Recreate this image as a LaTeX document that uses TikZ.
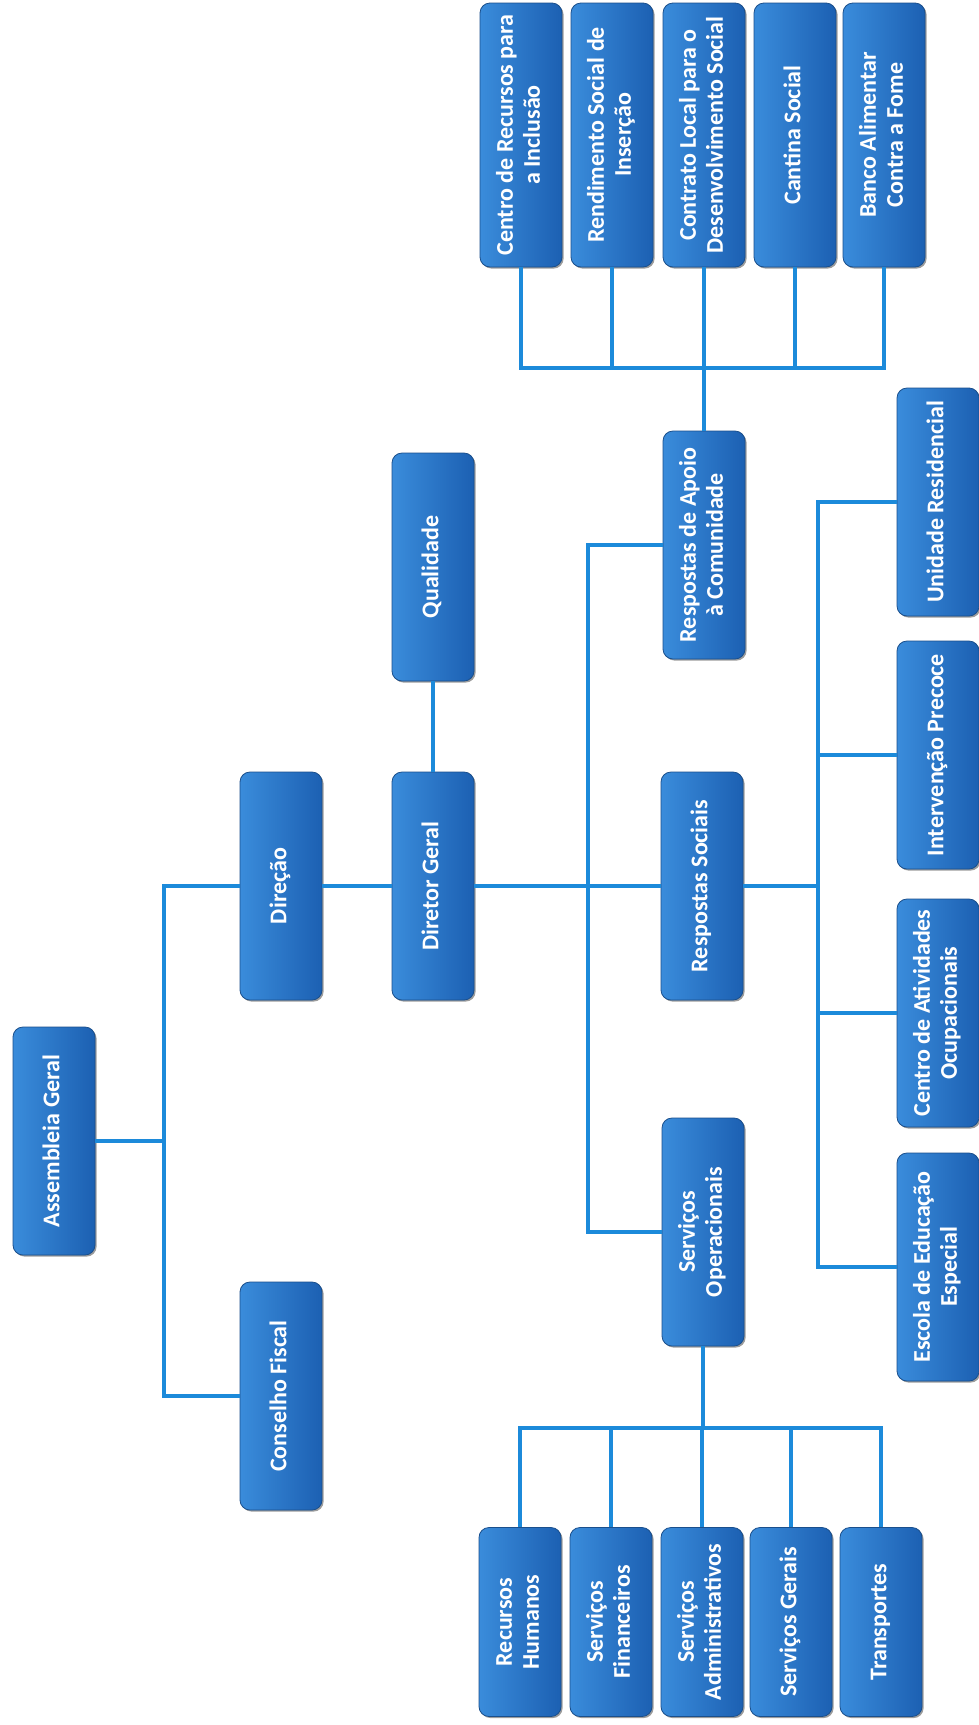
\documentclass[tikz,border=0pt]{standalone}
\usepackage{fontspec}
\setmainfont{Carlito}
\usepackage{graphicx}
\usetikzlibrary{shadows}
\definecolor{boxleft}{HTML}{3A8CDB}
\definecolor{boxmid}{HTML}{2370C7}
\definecolor{boxright}{HTML}{1C60B2}
\definecolor{boxedge}{HTML}{1A4F8C}
\definecolor{linkblue}{HTML}{1C8ADA}
\newcommand{\vlabel}[1]{\rotatebox{90}{\begin{tabular}{@{}c@{}}#1\end{tabular}}}
\tikzset{
  orgbox/.style={rectangle, rounded corners=5pt, minimum width=41pt, inner sep=0pt,
    left color=boxleft, middle color=boxmid, right color=boxright, draw=boxedge, line width=0.4pt,
    text=white, font=\bfseries\fontsize{12}{13.5}\selectfont,
    drop shadow={shadow xshift=0.8pt, shadow yshift=-0.8pt, fill=black!70, opacity=0.55}},
  mainbox/.style={orgbox, minimum height=114pt},
  topbox/.style={orgbox, minimum height=132pt},
  botbox/.style={orgbox, minimum height=94.5pt},
  link/.style={draw=linkblue, line width=2pt}
}
\begin{document}
\begin{tikzpicture}[x=0.5pt,y=-0.5pt]
\useasboundingbox[fill=white] (0,0) rectangle (979,1725);
% trunk and bus coordinates
\coordinate (tA) at (164,886);
\coordinate (tB) at (164,1396);
\coordinate (t2) at (588,0);
\coordinate (t3) at (818,0);
\coordinate (bus) at (0,368);
\coordinate (bbus) at (0,1428);
% boxes
\node[mainbox] (asm) at (54,1141) {\vlabel{Assembleia Geral}};
\node[mainbox] (con) at (281,1396) {\vlabel{Conselho Fiscal}};
\node[mainbox] (dir) at (281,886) {\vlabel{Direção}};
\node[mainbox] (dg) at (433,886) {\vlabel{Diretor Geral}};
\node[mainbox] (qual) at (433,567) {\vlabel{Qualidade}};
\node[mainbox] (rac) at (704,545) {\vlabel{Respostas de Apoio\\à Comunidade}};
\node[mainbox] (rs) at (702,886) {\vlabel{Respostas Sociais}};
\node[mainbox] (so) at (703,1232) {\vlabel{Serviços\\Operacionais}};
\node[mainbox] (ur) at (938,502) {\vlabel{Unidade Residencial}};
\node[mainbox] (ip) at (938,755) {\vlabel{Intervenção Precoce}};
\node[mainbox] (cao) at (938,1013) {\vlabel{Centro de Atividades\\Ocupacionais}};
\node[mainbox] (eee) at (938,1267) {\vlabel{Escola de Educação\\Especial}};
\node[topbox] (cri) at (521,135) {\vlabel{Centro de Recursos para\\a Inclusão}};
\node[topbox] (rsi) at (612,135) {\vlabel{Rendimento Social de\\Inserção}};
\node[topbox] (cl) at (704,135) {\vlabel{Contrato Local para o\\Desenvolvimento Social}};
\node[topbox] (cs) at (795,135) {\vlabel{Cantina Social}};
\node[topbox] (ba) at (884,135) {\vlabel{Banco Alimentar\\Contra a Fome}};
\node[botbox] (rh) at (520,1622) {\vlabel{Recursos\\Humanos}};
\node[botbox] (sf) at (611,1622) {\vlabel{Serviços\\Financeiros}};
\node[botbox] (sa) at (702,1622) {\vlabel{Serviços\\Administrativos}};
\node[botbox] (sg) at (791,1622) {\vlabel{Serviços Gerais}};
\node[botbox] (tr) at (881,1622) {\vlabel{Transportes}};
% left trunk
\draw[link] (dir.west) -- (tA) -- (tB) -- (con.west);
\draw[link] (asm.east) -- (asm.east -| tA);
\draw[link] (dir.east) -- (dg.west);
\draw[link] (dg.north) -- (qual.south);
\draw[link] (dg.east) -- (rs.west);
% middle trunk
\draw[link] (rac.west) -- (rac.west -| t2) -- (so.west -| t2) -- (so.west);
% right trunk
\draw[link] (ur.west) -- (ur.west -| t3) -- (eee.west -| t3) -- (eee.west);
\draw[link] (ip.west) -- (ip.west -| t3);
\draw[link] (cao.west) -- (cao.west -| t3);
\draw[link] (rs.east) -- (rs.east -| t3);
% top bus
\draw[link] (rac.north) -- (rac.north |- bus);
\draw[link] (cri.south) -- (cri.south |- bus) -- (ba.south |- bus) -- (ba.south);
\draw[link] (rsi.south) -- (rsi.south |- bus);
\draw[link] (cl.south) -- (cl.south |- bus);
\draw[link] (cs.south) -- (cs.south |- bus);
% bottom bus
\draw[link] (so.south) -- (so.south |- bbus);
\draw[link] (rh.north) -- (rh.north |- bbus) -- (tr.north |- bbus) -- (tr.north);
\draw[link] (sf.north) -- (sf.north |- bbus);
\draw[link] (sa.north) -- (sa.north |- bbus);
\draw[link] (sg.north) -- (sg.north |- bbus);
\end{tikzpicture}
\end{document}
